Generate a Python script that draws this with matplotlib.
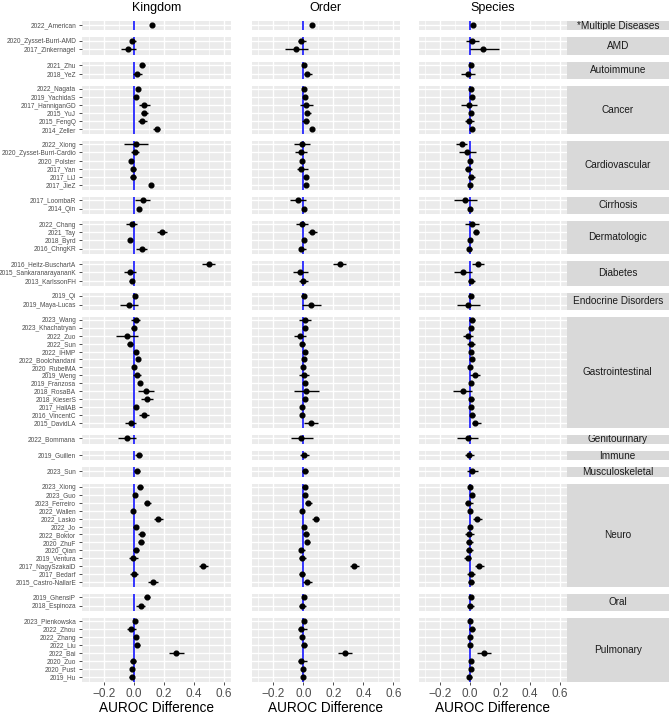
import matplotlib.pyplot as plt

plt.rcParams['font.family'] = ['Liberation Sans', 'DejaVu Sans']

# study labels and disease groups (top to bottom)
study = [
    "2022_American",
    "2020_Zysset-Burri-AMD", "2017_Zinkernagel",
    "2021_Zhu", "2018_YeZ",
    "2022_Nagata", "2019_YachidaS", "2017_HanniganGD", "2015_YuJ", "2015_FengQ", "2014_Zeller",
    "2022_Xiong", "2020_Zysset-Burri-Cardio", "2020_Polster", "2017_Yan", "2017_LiJ", "2017_JieZ",
    "2017_LoombaR", "2014_Qin",
    "2022_Chang", "2021_Tay", "2018_Byrd", "2016_ChngKR",
    "2016_Heitz-BuschartA", "2015_SankaranarayananK", "2013_KarlssonFH",
    "2019_Qi", "2019_Maya-Lucas",
    "2023_Wang", "2023_Khachatryan", "2022_Zuo", "2022_Sun", "2022_IHMP", "2022_Boolchandani",
    "2020_RubelMA", "2019_Weng", "2019_Franzosa", "2018_RosaBA", "2018_KieserS", "2017_HallAB",
    "2016_VincentC", "2015_DavidLA",
    "2022_Bommana",
    "2019_Guillen",
    "2023_Sun",
    "2023_Xiong", "2023_Guo", "2023_Ferreiro", "2022_Wallen", "2022_Lasko", "2022_Jo",
    "2022_Boktor", "2020_ZhuF", "2020_Qian", "2019_Ventura", "2017_NagySzakalD", "2017_Bedarf",
    "2015_Castro-NallarE",
    "2019_GhensiP", "2018_Espinoza",
    "2023_Pienkowska", "2022_Zhou", "2022_Zhang", "2022_Liu", "2022_Bai", "2020_Zuo",
    "2020_Pust", "2019_Hu",
]
disease = (["*Multiple Diseases"] + ["AMD"] * 2 + ["Autoimmune"] * 2 + ["Cancer"] * 6
           + ["Cardiovascular"] * 6 + ["Cirrhosis"] * 2 + ["Dermatologic"] * 4
           + ["Diabetes"] * 3 + ["Endocrine Disorders"] * 2 + ["Gastrointestinal"] * 14
           + ["Genitourinary"] + ["Immune"] + ["Musculoskeletal"] + ["Neuro"] * 13
           + ["Oral"] * 2 + ["Pulmonary"] * 8)

kingdom_est = [0.12, -0.01, -0.04, 0.055, 0.022, 0.03, 0.018, 0.07, 0.07, 0.058, 0.153,
               0.016, 0.007, -0.02, -0.004, -0.004, 0.118, 0.06, 0.038, -0.013, 0.187, -0.027, 0.055,
               0.5, -0.022, -0.013, 0.007, -0.029,
               0.013, 0.0, -0.044, -0.024, 0.016, 0.031, 0.0, 0.02, 0.04, 0.082, 0.089, 0.013, 0.069, -0.02,
               -0.042, 0.033, 0.022,
               0.04, 0.011, 0.091, -0.004, 0.164, 0.013, 0.053, 0.047, 0.016, -0.004, 0.462, 0.002, 0.127,
               0.089, 0.047,
               0.011, -0.016, 0.013, 0.024, 0.284, -0.007, -0.011, -0.013]
kingdom_lo = [0.11, -0.027, -0.085, 0.04, -0.007, 0.02, 0.008, 0.033, 0.05, 0.027, 0.13,
              -0.062, -0.02, -0.033, -0.018, -0.022, 0.108, 0.011, 0.028, -0.05, 0.153, -0.037, 0.018,
              0.458, -0.062, -0.031, -0.003, -0.089,
              -0.018, -0.018, -0.12, -0.042, 0.006, 0.021, -0.01, -0.007, 0.03, 0.027, 0.049, 0.003, 0.038, -0.056,
              -0.102, 0.011, 0.004,
              0.022, 0.001, 0.067, -0.014, 0.133, -0.004, 0.031, 0.027, -0.007, -0.033, 0.438, -0.022, 0.093,
              0.067, 0.016,
              0.001, -0.044, 0.003, 0.009, 0.238, -0.027, -0.021, -0.029]
kingdom_hi = [0.13, 0.016, 0.016, 0.073, 0.055, 0.04, 0.028, 0.107, 0.093, 0.089, 0.178,
              0.096, 0.033, -0.004, 0.016, 0.018, 0.128, 0.109, 0.048, 0.024, 0.22, -0.017, 0.091,
              0.54, 0.018, 0.004, 0.017, 0.029,
              0.042, 0.018, 0.029, -0.007, 0.026, 0.041, 0.01, 0.049, 0.05, 0.138, 0.129, 0.023, 0.102, 0.018,
              0.018, 0.055, 0.042,
              0.062, 0.021, 0.116, 0.006, 0.196, 0.031, 0.076, 0.071, 0.038, 0.029, 0.493, 0.027, 0.162,
              0.109, 0.078,
              0.021, 0.016, 0.023, 0.04, 0.338, 0.018, -0.001, 0.004]

order_est = [0.06, -0.016, -0.047, 0.004, 0.027, 0.007, 0.011, 0.02, 0.027, 0.016, 0.056,
             -0.011, -0.016, -0.007, -0.013, 0.02, 0.018, -0.038, 0.004, -0.011, 0.06, 0.004, -0.013,
             0.242, -0.022, 0.0, 0.002, 0.053,
             0.011, 0.009, -0.024, -0.011, 0.013, 0.007, 0.0, 0.002, 0.009, 0.02, 0.009, -0.007, -0.009, 0.049,
             -0.013, 0.004, 0.013,
             0.009, 0.013, 0.033, -0.007, 0.082, 0.007, 0.02, 0.027, -0.016, -0.007, 0.34, -0.011, 0.022,
             0.004, -0.011,
             0.002, -0.016, -0.007, 0.002, 0.28, -0.016, -0.004, -0.004]
order_lo = [0.05, -0.033, -0.124, -0.006, 0.004, -0.003, 0.001, -0.024, 0.009, -0.007, 0.046,
            -0.06, -0.058, -0.017, -0.04, 0.008, 0.008, -0.089, -0.006, -0.047, 0.033, -0.006, -0.029,
            0.2, -0.069, -0.029, -0.013, -0.009,
            -0.029, -0.001, -0.06, -0.024, 0.003, -0.003, -0.01, -0.031, -0.001, -0.064, -0.001, -0.017, -0.019, 0.002,
            -0.084, -0.024, -0.007,
            -0.007, 0.003, 0.013, -0.017, 0.06, -0.003, 0.0, 0.009, -0.031, -0.029, 0.309, -0.029, 0.0,
            -0.006, -0.029,
            -0.008, -0.036, -0.017, -0.018, 0.233, -0.033, -0.014, -0.014]
order_hi = [0.07, 0.016, 0.033, 0.014, 0.058, 0.017, 0.021, 0.062, 0.049, 0.036, 0.066,
            0.047, 0.027, 0.003, 0.031, 0.032, 0.028, 0.016, 0.014, 0.031, 0.089, 0.014, 0.02,
            0.287, 0.029, 0.033, 0.018, 0.12,
            0.051, 0.019, 0.02, 0.009, 0.023, 0.017, 0.01, 0.036, 0.019, 0.107, 0.019, 0.003, 0.001, 0.098,
            0.067, 0.036, 0.033,
            0.024, 0.023, 0.056, 0.003, 0.104, 0.017, 0.04, 0.044, 0.009, 0.018, 0.371, 0.013, 0.056,
            0.014, 0.02,
            0.012, 0.024, 0.003, 0.022, 0.327, 0.022, 0.006, 0.006]

species_est = [0.02, 0.011, 0.087, 0.002, -0.016, 0.002, 0.011, -0.011, 0.007, -0.009, 0.011,
               -0.058, -0.024, 0.0, -0.016, 0.007, 0.0, -0.033, 0.0, 0.013, 0.038, -0.002, -0.007,
               0.053, -0.049, 0.007, 0.002, -0.013,
               0.011, 0.002, -0.018, 0.004, 0.002, 0.011, 0.0, 0.029, 0.007, -0.049, 0.007, 0.002, 0.013, 0.033,
               -0.018, -0.011, 0.011,
               0.0, 0.009, -0.013, 0.0, 0.044, -0.002, -0.011, -0.009, -0.009, -0.018, 0.058, 0.004, 0.004,
               0.004, 0.0,
               0.0, 0.009, -0.002, -0.002, 0.089, 0.004, 0.002, -0.007]
species_lo = [0.01, -0.027, -0.004, -0.008, -0.06, -0.008, 0.001, -0.06, -0.005, -0.036, 0.001,
              -0.093, -0.078, -0.01, -0.033, -0.016, -0.01, -0.107, -0.01, -0.036, 0.018, -0.012, -0.022,
              0.013, -0.107, -0.016, -0.016, -0.089,
              -0.011, -0.008, -0.051, -0.02, -0.008, 0.001, -0.01, 0.0, -0.003, -0.113, -0.009, -0.008, -0.004, 0.011,
              -0.089, -0.038, -0.024,
              -0.01, -0.001, -0.038, -0.01, 0.02, -0.012, -0.033, -0.027, -0.029, -0.042, 0.031, -0.02, -0.016,
              -0.006, -0.02,
              -0.01, -0.011, -0.012, -0.012, 0.047, -0.006, -0.008, -0.024]
species_hi = [0.03, 0.056, 0.189, 0.012, 0.029, 0.012, 0.021, 0.044, 0.019, 0.022, 0.021,
              -0.024, 0.036, 0.01, 0.011, 0.029, 0.01, 0.042, 0.01, 0.06, 0.058, 0.008, 0.013,
              0.091, 0.011, 0.033, 0.018, 0.062,
              0.033, 0.012, 0.018, 0.029, 0.012, 0.021, 0.01, 0.064, 0.017, 0.011, 0.027, 0.012, 0.033, 0.069,
              0.051, 0.022, 0.051,
              0.01, 0.019, 0.02, 0.01, 0.076, 0.008, 0.022, 0.02, 0.016, 0.007, 0.089, 0.033, 0.024,
              0.014, 0.024,
              0.01, 0.029, 0.008, 0.008, 0.138, 0.014, 0.012, 0.011]

columns = [
    ("Kingdom", kingdom_est, kingdom_lo, kingdom_hi),
    ("Order", order_est, order_lo, order_hi),
    ("Species", species_est, species_lo, species_hi),
]

W, H = 669, 716
fig = plt.figure(figsize=(W / 100, H / 100), dpi=100)

# layout in pixels
col_left = [82, 251.5, 418.5]
col_w = 148.5
strip_right = 668.5
top, bottom, gap = 21, 682, 7

groups = []
for d in disease:
    if d not in groups:
        groups.append(d)
idx = {g: [i for i, d in enumerate(disease) if d == g] for g in groups}
total_units = sum(len(idx[g]) + 0.2 for g in groups)
unit = (bottom - top - gap * (len(groups) - 1)) / total_units

major = [-0.2, 0.0, 0.2, 0.4, 0.6]
minor = [-0.3, -0.1, 0.1, 0.3, 0.5]

y0 = top
for gi, g in enumerate(groups):
    rows = idx[g]
    n = len(rows)
    h = (n + 0.2) * unit
    last = gi == len(groups) - 1
    ypos = [n - 1 - k for k in range(n)]
    for ci, (title, est, lo, hi) in enumerate(columns):
        ax = fig.add_axes([col_left[ci] / W, 1 - (y0 + h) / H, col_w / W, h / H])
        ax.set_facecolor('#EBEBEB')
        for s in ax.spines.values():
            s.set_visible(False)
        ax.set_xlim(-0.345, 0.645)
        ax.set_ylim(-0.6, n - 0.6)
        ax.set_xticks(major)
        ax.set_xticks(minor, minor=True)
        ax.set_yticks(ypos)
        ax.set_axisbelow(True)
        ax.grid(which='major', color='white', lw=1.0)
        ax.grid(which='minor', axis='x', color='white', lw=0.5)
        ax.tick_params(which='minor', length=0)
        if ci == 0:
            ax.set_yticklabels([study[r] for r in rows])
            ax.tick_params(axis='y', length=2.2, width=0.6, color='#333333',
                           labelsize=4.7, labelcolor='#4D4D4D', pad=2)
        else:
            ax.tick_params(axis='y', length=0, labelleft=False)
        if last:
            ax.tick_params(axis='x', length=2.5, width=0.6, color='#333333',
                           labelsize=8.5, labelcolor='#4D4D4D', pad=1.5)
        else:
            ax.tick_params(axis='x', length=0, labelbottom=False)

        ax.axvline(0, color='blue', lw=1.1, zorder=2)
        ax.hlines(ypos, [lo[r] for r in rows], [hi[r] for r in rows],
                  color='black', lw=1.0, zorder=3)
        ax.plot([est[r] for r in rows], ypos, 'o', ms=3.4, color='black', zorder=4)

    # facet strip on the right
    sax = fig.add_axes([(col_left[2] + col_w) / W, 1 - (y0 + h) / H,
                        (strip_right - col_left[2] - col_w) / W, h / H])
    sax.set_facecolor('#D9D9D9')
    sax.set_xticks([])
    sax.set_yticks([])
    for s in sax.spines.values():
        s.set_visible(False)
    sax.text(0.5, 0.5, g, transform=sax.transAxes, ha='center', va='center',
             fontsize=7.2, color='#1A1A1A', clip_on=True)
    y0 += h + gap

for ci, (title, *_rest) in enumerate(columns):
    cx = (col_left[ci] + col_w / 2) / W
    fig.text(cx, 1 - 8 / H, title, ha='center', va='center', fontsize=9)
    fig.text(cx, 1 - 708 / H, "AUROC Difference", ha='center', va='center', fontsize=9.8)

fig.savefig('out.png', dpi=100)
